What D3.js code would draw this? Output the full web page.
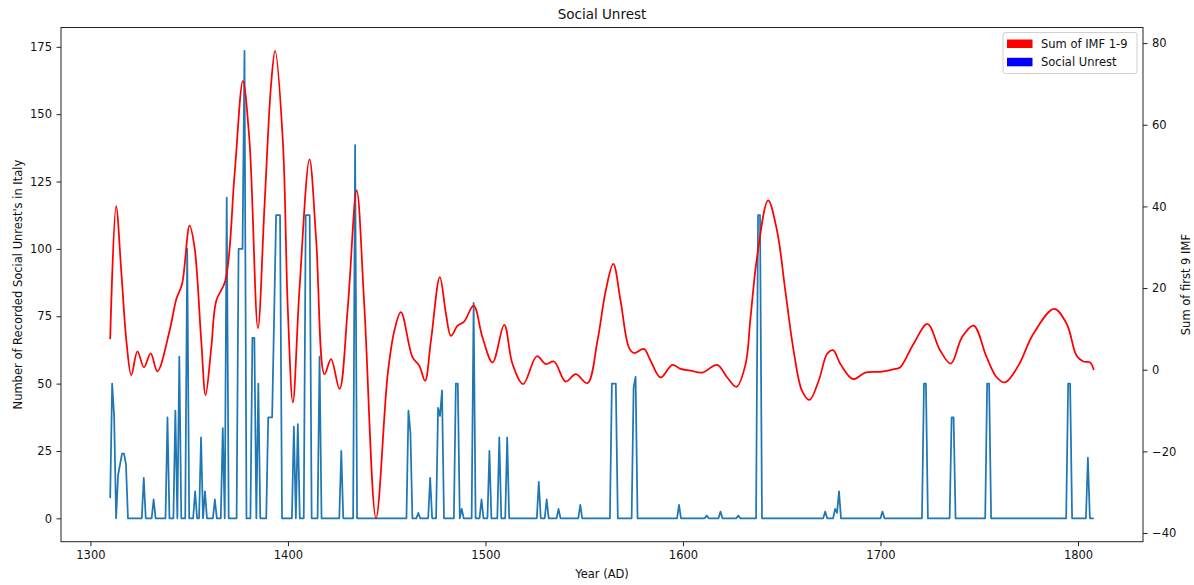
<!DOCTYPE html>
<html>
<head>
<meta charset="utf-8">
<script src="https://cdn.jsdelivr.net/npm/d3@7"></script>
<style>
  html, body { margin: 0; padding: 0; background: #fff; }
  svg { display: block; font-family: "DejaVu Sans", sans-serif; }
</style>
</head>
<body>
<svg id="chart" width="1194" height="585"></svg>
<script>
// Recorded social unrest events per year (breakpoints of the yearly series)
const unrestYears = [
  1310, 1311, 1312, 1313, 1314, 1315, 1316, 1317, 1318, 1319,
  1326, 1327, 1328, 1331, 1332, 1333, 1338, 1339, 1340, 1342,
  1343, 1344, 1345, 1346, 1348, 1349, 1350, 1352, 1353, 1354,
  1355, 1356, 1357, 1358, 1359, 1362, 1363, 1364, 1366, 1367,
  1368, 1369, 1370, 1374, 1375, 1376, 1377, 1378, 1379, 1381,
  1382, 1383, 1384, 1385, 1386, 1389, 1390, 1391, 1392, 1394,
  1395, 1396, 1397, 1402, 1403, 1404, 1405, 1406, 1408, 1409,
  1410, 1411, 1412, 1415, 1416, 1417, 1426, 1427, 1428, 1433,
  1434, 1435, 1460, 1461, 1462, 1463, 1465, 1466, 1467, 1471,
  1472, 1473, 1475, 1476, 1477, 1478, 1479, 1484, 1485, 1486,
  1487, 1488, 1489, 1493, 1494, 1495, 1497, 1498, 1499, 1501,
  1502, 1503, 1506, 1507, 1508, 1510, 1511, 1512, 1526, 1527,
  1528, 1530, 1531, 1532, 1536, 1537, 1538, 1547, 1548, 1549,
  1563, 1564, 1565, 1566, 1567, 1574, 1575, 1576, 1577, 1597,
  1598, 1599, 1611, 1612, 1613, 1618, 1619, 1620, 1627, 1628,
  1629, 1637, 1638, 1639, 1640, 1671, 1672, 1673, 1676, 1677,
  1678, 1679, 1680, 1700, 1701, 1702, 1721, 1722, 1723, 1724,
  1735, 1736, 1737, 1738, 1753, 1754, 1755, 1756, 1794, 1795,
  1796, 1797, 1804, 1805, 1806, 1808
];
const unrestCounts = [
  7.5, 50, 38, 0, 16, 20, 24, 24, 20, 0,
  0, 15, 0, 0, 7, 0, 0, 37.5, 0, 0,
  40, 0, 60, 0, 0, 100, 0, 0, 10, 0,
  0, 30, 0, 10, 0, 0, 7, 0, 0, 33.5,
  0, 119, 0, 0, 100, 100, 100, 173.5, 0, 0,
  67, 67, 0, 50, 0, 0, 37.5, 37.5, 37.5, 112.5,
  112.5, 112.5, 0, 0, 34, 0, 35, 0, 0, 112.5,
  112.5, 112.5, 0, 0, 60, 0, 0, 25, 0, 0,
  138.5, 0, 0, 40, 32, 0, 0, 2, 0, 0,
  15, 0, 0, 41, 38, 47.5, 0, 0, 50, 50,
  0, 3.5, 0, 0, 80, 0, 0, 7, 0, 0,
  25, 0, 0, 30, 0, 0, 30, 0, 0, 13.5,
  0, 0, 7, 0, 0, 3.5, 0, 0, 5, 0,
  0, 50, 50, 50, 0, 0, 48.5, 52.5, 0, 0,
  5, 0, 0, 1, 0, 0, 2.5, 0, 0, 1,
  0, 0, 112.5, 112.5, 0, 0, 2.5, 0, 0, 3.5,
  2, 10, 0, 0, 2.5, 0, 0, 50, 50, 0,
  0, 37.5, 37.5, 0, 0, 50, 50, 0, 0, 50,
  50, 0, 0, 22.5, 0, 0
];

// Sum of the first nine intrinsic mode functions
const imfYears = [
  1310, 1313, 1315.7, 1318.2, 1320.7, 1323.8, 1327.1, 1330.5, 1333.9, 1340.1,
  1343.5, 1346.4, 1350.2, 1352.7, 1356.1, 1358.3, 1361.2, 1363.7, 1368.3, 1373,
  1377.2, 1380.5, 1384.8, 1388.1, 1391.5, 1393.5, 1397.4, 1399.9, 1402.5, 1405.8,
  1410.9, 1414.3, 1418.5, 1421.8, 1426.1, 1430.3, 1434.8, 1438.7, 1444.6, 1450.5,
  1453.9, 1457.2, 1463.1, 1466.5, 1469.4, 1472.4, 1476.9, 1480, 1482.5, 1485.9,
  1489.2, 1494, 1498.5, 1503.6, 1509.5, 1513.7, 1519.1, 1526, 1530.5, 1534.7,
  1540.6, 1545.7, 1551.6, 1556.7, 1560.9, 1564.7, 1568.4, 1572.6, 1575.2, 1580.2,
  1583.6, 1588.7, 1594.6, 1598.8, 1603.8, 1609.7, 1617.3, 1622.4, 1627.1, 1631.7,
  1634.2, 1637.5, 1643.1, 1647.6, 1651.8, 1656, 1660.3, 1664, 1668.7, 1673,
  1676, 1679.7, 1686.1, 1692.3, 1699.9, 1707.5, 1710, 1716.7, 1723.8, 1730.2,
  1735.6, 1741.2, 1747.1, 1753.8, 1758.9, 1763.1, 1769.8, 1777.4, 1787.9, 1794.3,
  1799.3, 1802.7, 1806.1, 1808
];
const imfSum = [
  7.5, 40.1, 23.5, 7.1, -1.3, 4.5, 0.6, 4.0, -0.4, 9.6,
  17.3, 21.0, 35.3, 30.0, 7.1, -6.2, 5.5, 16.9, 21.8, 48.0,
  70.7, 56.2, 10.2, 39.8, 70.1, 78.1, 56.2, 15.3, -8.0, 19.4,
  51.5, 31.7, -1.1, 2.6, -4.7, 15.3, 43.9, 15.3, -36.4, -1.1,
  9.6, 14.1, 3.0, 1.0, -2.7, 7.1, 22.7, 13.7, 8.3, 10.8,
  11.8, 15.7, 7.9, 1.8, 11.0, 1.4, -3.5, 3.3, 1.4, 2.0,
  -2.9, -1.1, -3.3, 7.1, 19.4, 25.9, 16.9, 5.5, 4.1, 5.1,
  2.2, -1.9, 1.2, 0.2, -0.2, -0.7, 1.2, -1.9, -4.2, 1.4,
  12.8, 27.6, 41.5, 34.1, 19.4, 4.7, -5.2, -7.4, -2.7, 3.9,
  4.8, 1.4, -2.3, -0.7, -0.5, 0.2, 0.6, 6.3, 11.2, 4.7,
  1.5, 7.9, 10.8, 3.0, -1.9, -3.1, 1.0, 8.8, 14.9, 11.2,
  3.4, 2.0, 1.8, -0.1
];

const xTicks = [1300, 1400, 1500, 1600, 1700, 1800];
const leftTicks = [0, 25, 50, 75, 100, 125, 150, 175];
const rightTicks = [-40, -20, 0, 20, 40, 60, 80];

const legendItems = [
  { label: "Sum of IMF 1-9", color: "#ff0000" },
  { label: "Social Unrest", color: "#0000ff" }
];

const width = 1194, height = 585;
const margin = { left: 61, right: 51, top: 27.5, bottom: 43.3 };
const plotW = width - margin.left - margin.right;
const plotH = height - margin.top - margin.bottom;

// pad a data extent by 5% on both sides
function padded(ext) {
  const d = (ext[1] - ext[0]) * 0.05;
  return [ext[0] - d, ext[1] + d];
}

const x = d3.scaleLinear()
  .domain(padded(d3.extent(unrestYears)))
  .range([margin.left, margin.left + plotW]);
const yLeft = d3.scaleLinear()
  .domain(padded(d3.extent(unrestCounts)))
  .range([margin.top + plotH, margin.top]);
const yRight = d3.scaleLinear()
  .domain(padded(d3.extent(imfSum)))
  .range([margin.top + plotH, margin.top]);

const svg = d3.select("#chart");
svg.append("rect").attr("width", width).attr("height", height).attr("fill", "#fff");

const fontSize = 11.5;
const axisColor = "#222";

// clip lines to the plot area
svg.append("clipPath").attr("id", "plot-clip")
  .append("rect")
  .attr("x", margin.left).attr("y", margin.top)
  .attr("width", plotW).attr("height", plotH);

// social unrest line
const unrestData = unrestYears.map((yr, i) => [yr, unrestCounts[i]]);
svg.append("path")
  .datum(unrestData)
  .attr("clip-path", "url(#plot-clip)")
  .attr("fill", "none")
  .attr("stroke", "#1f77b4")
  .attr("stroke-width", 1.75)
  .attr("stroke-linejoin", "round")
  .attr("d", d3.line().x(d => x(d[0])).y(d => yLeft(d[1])));

// IMF sum curve
const imfData = imfYears.map((yr, i) => [yr, imfSum[i]]);
svg.append("path")
  .datum(imfData)
  .attr("clip-path", "url(#plot-clip)")
  .attr("fill", "none")
  .attr("stroke", "#ff0000")
  .attr("stroke-width", 1.75)
  .attr("stroke-linejoin", "round")
  .attr("d", d3.line().curve(d3.curveCatmullRom.alpha(0.5)).x(d => x(d[0])).y(d => yRight(d[1])));

// axes
function styleAxis(g) {
  g.selectAll("path.domain").remove();
  g.selectAll("line").attr("stroke", axisColor).attr("stroke-width", 1);
  g.selectAll("text")
    .attr("fill", "#111")
    .style("font-size", fontSize + "px")
    .style("font-family", "DejaVu Sans, sans-serif");
}

svg.append("g")
  .attr("transform", `translate(0,${margin.top + plotH})`)
  .call(d3.axisBottom(x).tickValues(xTicks).tickFormat(d3.format("d")).tickSize(4.5).tickPadding(5))
  .call(styleAxis);

svg.append("g")
  .attr("transform", `translate(${margin.left},0)`)
  .call(d3.axisLeft(yLeft).tickValues(leftTicks).tickFormat(d3.format("d")).tickSize(4.5).tickPadding(4.5))
  .call(styleAxis);

svg.append("g")
  .attr("transform", `translate(${margin.left + plotW},0)`)
  .call(d3.axisRight(yRight).tickValues(rightTicks).tickFormat(d => d < 0 ? "\u2212" + Math.abs(d) : d).tickSize(4.5).tickPadding(4.5))
  .call(styleAxis);

// frame
svg.append("rect")
  .attr("x", margin.left).attr("y", margin.top)
  .attr("width", plotW).attr("height", plotH)
  .attr("fill", "none")
  .attr("stroke", axisColor)
  .attr("stroke-width", 1);

// titles
svg.append("text")
  .attr("x", margin.left + plotW / 2).attr("y", 19)
  .attr("text-anchor", "middle")
  .style("font-size", "13.5px")
  .attr("fill", "#111")
  .text("Social Unrest");

svg.append("text")
  .attr("x", margin.left + plotW / 2).attr("y", 578)
  .attr("text-anchor", "middle")
  .style("font-size", fontSize + "px")
  .attr("fill", "#111")
  .text("Year (AD)");

svg.append("text")
  .attr("transform", `translate(22,${margin.top + plotH / 2}) rotate(-90)`)
  .attr("text-anchor", "middle")
  .style("font-size", fontSize + "px")
  .attr("fill", "#111")
  .text("Number of Recorded Social Unrest's in Italy");

svg.append("text")
  .attr("transform", `translate(1190,${margin.top + plotH / 2}) rotate(-90)`)
  .attr("text-anchor", "middle")
  .style("font-size", fontSize + "px")
  .attr("fill", "#111")
  .text("Sum of first 9 IMF");

// legend
const legend = svg.append("g").attr("transform", "translate(1003,32.5)");
legend.append("rect")
  .attr("width", 134).attr("height", 41)
  .attr("rx", 2.5)
  .attr("fill", "#fff").attr("fill-opacity", 0.8)
  .attr("stroke", "#d0d0d0").attr("stroke-width", 1);
legendItems.forEach((item, i) => {
  const row = legend.append("g").attr("transform", `translate(0,${i * 18.3})`);
  row.append("rect")
    .attr("x", 4).attr("y", 7)
    .attr("width", 25.5).attr("height", 8.5)
    .attr("fill", item.color);
  row.append("text")
    .attr("x", 38).attr("y", 15)
    .style("font-size", fontSize + "px")
    .attr("fill", "#111")
    .text(item.label);
});
</script>
</body>
</html>
